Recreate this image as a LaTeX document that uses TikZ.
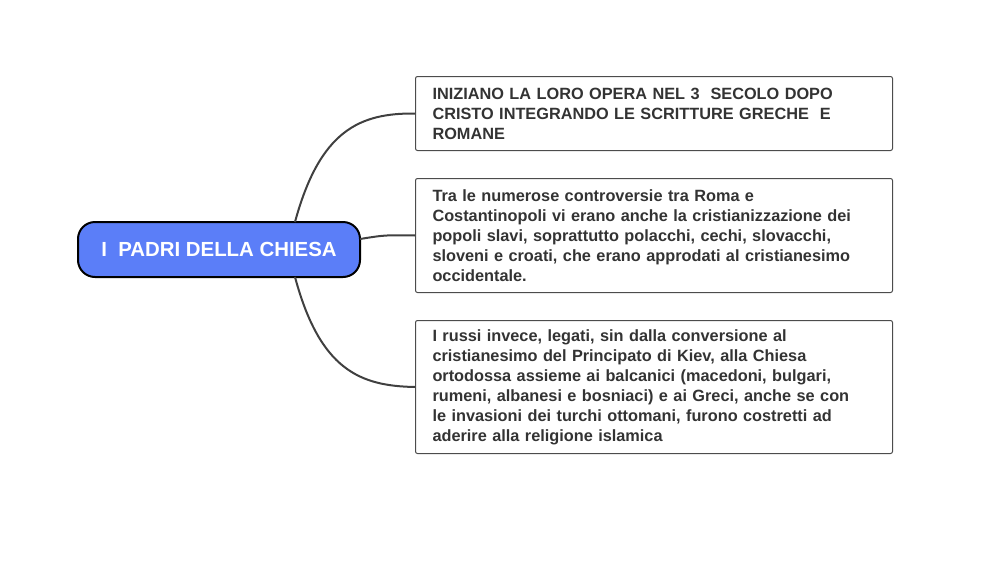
\documentclass[tikz,border=0pt]{standalone}
\usepackage{fontspec}
\setmainfont{Liberation Sans}
\begin{document}
\begin{tikzpicture}[x=1pt,y=-1pt,
  box/.style={draw=black!70,line width=1pt,rounded corners=2pt,minimum width=460pt,text width=443pt,inner xsep=17pt,align=left,anchor=north west,font=\bfseries\fontsize{16.3}{20}\selectfont,text=black!80},
  conn/.style={draw=black!75,line width=2pt}]
\useasboundingbox (0,0) rectangle (1000,562);
\node[draw=black,line width=2pt,rounded corners=17pt,fill={rgb,255:red,91;green,126;blue,248},minimum width=282pt,minimum height=55pt,text=white,font=\bfseries\fontsize{20.4}{22}\selectfont] (root) at (219,249.5) {I\ \ PADRI DELLA CHIESA};
\node[box,minimum height=74pt] (b1) at (415,76) {INIZIANO LA LORO OPERA NEL 3\ \ SECOLO DOPO\\CRISTO INTEGRANDO LE SCRITTURE GRECHE\ \ E\\ROMANE};
\node[box,minimum height=114pt] (b2) at (415,178) {Tra le numerose controversie tra Roma e\\Costantinopoli vi erano anche la cristianizzazione dei\\popoli slavi, soprattutto polacchi, cechi, slovacchi,\\sloveni e croati, che erano approdati al cristianesimo\\occidentale.};
\node[box,minimum height=133pt] (b3) at (415,320) {I russi invece, legati, sin dalla conversione al\\cristianesimo del Principato di Kiev, alla Chiesa\\ortodossa assieme ai balcanici (macedoni, bulgari,\\rumeni, albanesi e bosniaci) e ai Greci, anche se con\\le invasioni dei turchi ottomani, furono costretti ad\\aderire alla religione islamica};
\coordinate (r1) at (295,222);
\coordinate (r2) at (360,239);
\coordinate (r3) at (295,277);
\draw[conn] (r1) .. controls (320,130) and (360,113) .. (b1.west);
\draw[conn] (r2) .. controls (385,235) .. (b2.west);
\draw[conn] (r3) .. controls (320,370) and (360,386) .. (b3.west);
\end{tikzpicture}
\end{document}
